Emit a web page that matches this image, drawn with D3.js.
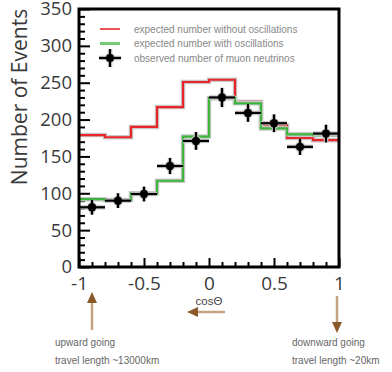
<!DOCTYPE html>
<html>
<head>
<meta charset="utf-8">
<script src="https://cdn.jsdelivr.net/npm/d3@7"></script>
<style>
  body { margin: 0; background: #fff; }
  svg { display: block; }
  .tick-label { font-family: "Open Sans", sans-serif; fill: #3a3a3a; }
  .note { font-family: "Liberation Sans", sans-serif; font-size: 10px; fill: #666; }
</style>
</head>
<body>
<svg id="chart"></svg>
<script>
// bin edges in cos(theta)
var binEdges = [-1, -0.8, -0.6, -0.4, -0.2, 0, 0.2, 0.4, 0.6, 0.8, 1];
var binCenters = [-0.9, -0.7, -0.5, -0.3, -0.1, 0.1, 0.3, 0.5, 0.7, 0.9];
// expected without oscillations (red)
var noOsc = [179, 176, 190, 217, 251, 254, 224, 192, 175, 172];
// expected with oscillations (green)
var withOsc = [92, 91, 100, 117, 177, 229, 222, 188, 180, 179];
// observed muon neutrinos
var observed = [81, 90, 99, 137, 171, 230, 209, 195, 163, 181];
var obsErr = [10, 10, 10, 11, 12, 13, 12, 12, 11, 12];

var yMajor = [0, 50, 100, 150, 200, 250, 300, 350];
var yMinor = [10, 20, 30, 40, 60, 70, 80, 90, 110, 120, 130, 140, 160, 170, 180, 190,
              210, 220, 230, 240, 260, 270, 280, 290, 310, 320, 330, 340];
var xMajor = [-1, -0.5, 0, 0.5, 1];
var xMinor = [-0.9, -0.8, -0.7, -0.6, -0.4, -0.3, -0.2, -0.1, 0.1, 0.2, 0.3, 0.4, 0.6, 0.7, 0.8, 0.9];
var xLabels = ["-1", "-0.5", "0", "0.5", "1"];

var legendLabels = ["expected number without oscillations",
                    "expected number with oscillations",
                    "observed number of muon neutrinos"];

var W = 392, H = 372;
var MARGIN = {left: 79, top: 9, right: 53, bottom: 105};
var width = W - MARGIN.left - MARGIN.right;
var height = H - MARGIN.top - MARGIN.bottom;

var RED = "#e8262a", GREEN = "#3db53d", BROWN = "#8b5a2b", BROWN_LIGHT = "#c4a282";

var svg = d3.select("#chart").attr("width", W).attr("height", H);
var chart = svg.append("g").attr("transform", "translate(" + MARGIN.left + "," + MARGIN.top + ")");

var x = d3.scaleLinear().domain([-1, 1]).range([0, width]);
var y = d3.scaleLinear().domain([0, 350]).range([height, 0]);

// minor ticks first
chart.append("g").call(d3.axisLeft(y).tickValues(yMinor).tickSize(-6).tickFormat(""))
    .call(function(g) { g.select(".domain").remove(); })
    .selectAll("line").attr("stroke", "#000").attr("stroke-width", 2);
chart.append("g").attr("transform", "translate(0," + height + ")")
    .call(d3.axisBottom(x).tickValues(xMinor).tickSize(-5).tickFormat(""))
    .call(function(g) { g.select(".domain").remove(); })
    .selectAll("line").attr("stroke", "#000").attr("stroke-width", 2);

// major ticks with labels
var yAxis = chart.append("g")
    .call(d3.axisLeft(y).tickValues(yMajor).tickSize(-11).tickPadding(7).tickFormat(function(d) { return d; }));
yAxis.select(".domain").remove();
yAxis.selectAll("line").attr("stroke", "#000").attr("stroke-width", 2);
yAxis.selectAll("text").attr("class", "tick-label").style("font-size", "18.5px").attr("fill", "#3a3a3a");

var xAxis = chart.append("g").attr("transform", "translate(0," + height + ")")
    .call(d3.axisBottom(x).tickValues(xMajor).tickSize(-9).tickPadding(10)
        .tickFormat(function(d, i) { return xLabels[i]; }));
xAxis.select(".domain").remove();
xAxis.selectAll("line").attr("stroke", "#000").attr("stroke-width", 2);
xAxis.selectAll("text").attr("class", "tick-label").style("font-size", "19px").attr("fill", "#3a3a3a");

// histograms
function stepPoints(vals) {
    var pts = vals.map(function(v, i) { return [binEdges[i], v]; });
    pts.push([binEdges[binEdges.length - 1], vals[vals.length - 1]]);
    return pts;
}
var step = d3.line()
    .x(function(d) { return x(d[0]); })
    .y(function(d) { return y(d[1]); })
    .curve(d3.curveStepAfter);

function drawHist(vals, color) {
    var pts = stepPoints(vals);
    chart.append("path").datum(pts).attr("d", step)
        .attr("fill", "none").attr("stroke", "#c8c8c8").attr("stroke-width", 4.5);
    chart.append("path").datum(pts).attr("d", step)
        .attr("fill", "none").attr("stroke", color).attr("stroke-width", 2.2);
}
drawHist(noOsc, RED);
drawHist(withOsc, GREEN);

// observed points with error bars
function drawPoint(g, cx, cy, hw, vh, r) {
    [["#c8c8c8", 4.5, r + 1.2], ["#000", 2.2, r]].forEach(function(s) {
        g.append("line").attr("x1", cx - hw).attr("x2", cx + hw).attr("y1", cy).attr("y2", cy)
            .attr("stroke", s[0]).attr("stroke-width", s[1]);
        g.append("line").attr("x1", cx).attr("x2", cx).attr("y1", cy - vh).attr("y2", cy + vh)
            .attr("stroke", s[0]).attr("stroke-width", s[1]);
        g.append("circle").attr("cx", cx).attr("cy", cy).attr("r", s[2]).attr("fill", s[0]);
    });
}
var pts = chart.append("g");
observed.forEach(function(v, i) {
    var cx = x(binCenters[i]), cy = y(v);
    var hw = x(binCenters[i] + 0.1) - cx;
    var vh = y(v - obsErr[i]) - cy;
    drawPoint(pts, cx, cy, hw, vh, 4.2);
});

// frame
chart.append("rect").attr("x", 0).attr("y", 0).attr("width", width).attr("height", height)
    .attr("fill", "none").attr("stroke", "#000").attr("stroke-width", 3);

// legend
var legend = svg.append("g").attr("transform", "translate(100,29)");
[RED, GREEN].forEach(function(c, i) {
    legend.append("line").attr("x1", 0).attr("x2", 20).attr("y1", i * 14.5).attr("y2", i * 14.5)
        .attr("stroke", c).attr("stroke-width", i == 0 ? 1.6 : 3).attr("opacity", i == 0 ? 1 : 0.7);
});
drawPoint(legend, 10, 29, 11, 9, 4);
legendLabels.forEach(function(t, i) {
    legend.append("text").attr("class", "note").attr("x", 34).attr("y", i * 14.5 + 3.5)
        .style("fill", "#888").text(t);
});

// axis titles
svg.append("text").attr("class", "tick-label")
    .attr("transform", "translate(27,97) rotate(-90)")
    .attr("text-anchor", "middle").style("font-size", "21px").text("Number of Events");
svg.append("text").attr("class", "note")
    .attr("x", MARGIN.left + x(0)).attr("y", 305).attr("text-anchor", "middle")
    .style("font-size", "11.5px").style("fill", "#444").text("cosΘ");

// arrows
function arrow(x1, y1, x2, y2) {
    var ang = Math.atan2(y2 - y1, x2 - x1), L = 11, hw = 5;
    var bx = x2 - L * Math.cos(ang), by = y2 - L * Math.sin(ang);
    svg.append("line").attr("x1", x1).attr("y1", y1).attr("x2", bx).attr("y2", by)
        .attr("stroke", BROWN_LIGHT).attr("stroke-width", 2.5);
    var p = [[x2, y2],
             [bx + hw * Math.sin(ang), by - hw * Math.cos(ang)],
             [bx - hw * Math.sin(ang), by + hw * Math.cos(ang)]];
    svg.append("path").attr("d", "M" + p.join("L") + "Z").attr("fill", BROWN);
}
arrow(92, 330, 92, 292);
arrow(225, 312, 187, 312);
arrow(337, 296, 337, 333);

// notes
svg.append("text").attr("class", "note").attr("x", 55).attr("y", 346).text("upward going");
svg.append("text").attr("class", "note").attr("x", 55).attr("y", 364).text("travel length ~13000km");
svg.append("text").attr("class", "note").attr("x", 292).attr("y", 346).text("downward going");
svg.append("text").attr("class", "note").attr("x", 292).attr("y", 364).text("travel length ~20km");
</script>
</body>
</html>
